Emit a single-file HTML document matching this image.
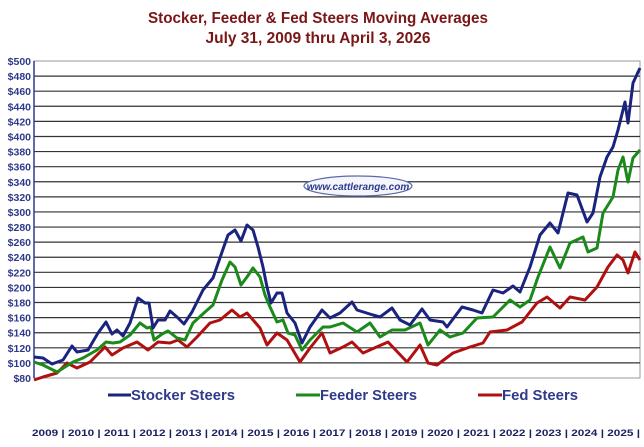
<!DOCTYPE html>
<html><head><meta charset="utf-8"><style>
body{margin:0;background:#fff;width:644px;height:442px;overflow:hidden}
text{font-family:"Liberation Sans",Arial,sans-serif}
</style></head><body>
<svg width="644" height="442" xmlns="http://www.w3.org/2000/svg">
<text x="318" y="23" text-anchor="middle" font-size="15.5" font-weight="bold" fill="#7a1616" textLength="340" lengthAdjust="spacingAndGlyphs">Stocker, Feeder &amp; Fed Steers Moving Averages</text>
<text x="318" y="43" text-anchor="middle" font-size="15.5" font-weight="bold" fill="#7a1616" textLength="225" lengthAdjust="spacingAndGlyphs">July 31, 2009 thru April 3, 2026</text>
<rect x="34" y="61" width="606" height="317" fill="#fff" stroke="#999" stroke-width="1"/>
<g stroke="#333" stroke-width="1.2" id="grid"></g>
<g font-size="10.5" font-weight="bold" fill="#2e3a8a" text-anchor="end" id="ylab"></g>
<line x1="34" y1="61" x2="34" y2="378" stroke="#2e3a8a" stroke-width="1.5"/>
<g fill="none" stroke-width="3" stroke-linejoin="round">
<polyline stroke="#b01010" points="34,380 43,377 57,373 67,363 77,368 90,362 105,347 112,355 123,348 137,342 148,350 158,342 170,343 178,340 187,347 197,337 210,323 220,320 232,310 240,317 247,313 260,328 267,345 277,333 287,340 300,362 310,348 322,333 330,353 343,347 352,342 363,353 388,342 407,362 420,345 428,363 437,365 453,353 470,347 483,343 490,332 507,330 522,322 537,303 547,297 560,308 570,297 585,300 597,287 608,267 617,255 623,260 628,273 635,252 640,260"/>
<polyline stroke="#1a8a1a" points="34,362 43,365 57,372 73,362 83,358 97,350 106,342 113,343 120,342 130,335 140,323 147,328 151,327 154,340 162,334 168,331 177,338 185,340 193,323 205,312 213,305 222,280 230,262 235,267 241,285 247,277 253,268 260,277 265,295 270,307 277,322 283,320 288,333 295,335 302,350 310,340 323,327 330,327 343,323 357,332 370,323 380,337 392,330 405,330 420,323 428,345 440,330 450,337 463,333 477,318 493,317 510,300 520,307 530,300 538,277 550,247 560,268 570,243 583,237 588,252 597,248 603,213 613,197 618,170 623,157 628,182 633,158 640,150"/>
<polyline stroke="#1a237e" points="34,357 43,358 52,364 63,360 72,346 77,352 88,350 98,333 106,322 112,334 117,330 123,336 130,323 138,298 145,303 149,303 153,328 158,320 165,320 170,311 177,317 184,324 192,312 203,290 213,278 222,252 228,235 235,230 241,241 247,225 253,230 258,247 263,267 267,287 271,303 277,293 282,293 287,313 295,323 302,343 310,327 322,310 330,318 340,313 352,302 357,310 373,315 380,317 392,308 400,320 410,325 422,309 430,320 443,322 447,327 462,307 473,310 482,313 493,290 503,293 513,286 520,292 530,267 540,235 550,223 558,233 568,193 577,195 587,222 593,213 600,177 607,157 613,147 618,130 625,102 628,123 633,83 640,68"/>
</g>
<ellipse cx="358" cy="186" rx="54" ry="10" fill="#f4f6fc" stroke="#5a6aa8" stroke-width="1.2"/>
<text x="358" y="190" text-anchor="middle" font-size="10" font-weight="bold" font-style="italic" fill="#2e3a8a">www.cattlerange.com</text>
<g font-size="14.5" font-weight="bold" fill="#2e3a8a">
<line x1="108" y1="395" x2="131" y2="395" stroke="#1a237e" stroke-width="3"/><text x="131" y="400" textLength="104" lengthAdjust="spacingAndGlyphs">Stocker Steers</text>
<line x1="296" y1="395" x2="320" y2="395" stroke="#1a8a1a" stroke-width="3"/><text x="320" y="400" textLength="97" lengthAdjust="spacingAndGlyphs">Feeder Steers</text>
<line x1="478" y1="395" x2="502" y2="395" stroke="#b01010" stroke-width="3"/><text x="502" y="400" textLength="76" lengthAdjust="spacingAndGlyphs">Fed Steers</text>
</g>
<text x="32" y="436" font-size="9.3" font-weight="bold" fill="#1a1f5e" textLength="608" lengthAdjust="spacingAndGlyphs">2009 | 2010 | 2011 | 2012 | 2013 | 2014 | 2015 | 2016 | 2017 | 2018 | 2019 | 2020 | 2021 | 2022 | 2023 | 2024 | 2025 |</text>
</svg>
<script>
var g=document.getElementById('grid'),l=document.getElementById('ylab'),ns='http://www.w3.org/2000/svg';
for(var i=0;i<=21;i++){var y=61+i*317/21,v=500-i*20;
if(i>0&&i<21){var ln=document.createElementNS(ns,'line');ln.setAttribute('x1',34);ln.setAttribute('x2',640);ln.setAttribute('y1',y);ln.setAttribute('y2',y);g.appendChild(ln);}
var t=document.createElementNS(ns,'text');t.setAttribute('x',31);t.setAttribute('y',y+4);t.textContent='$'+v;l.appendChild(t);}
</script>
</body></html>
